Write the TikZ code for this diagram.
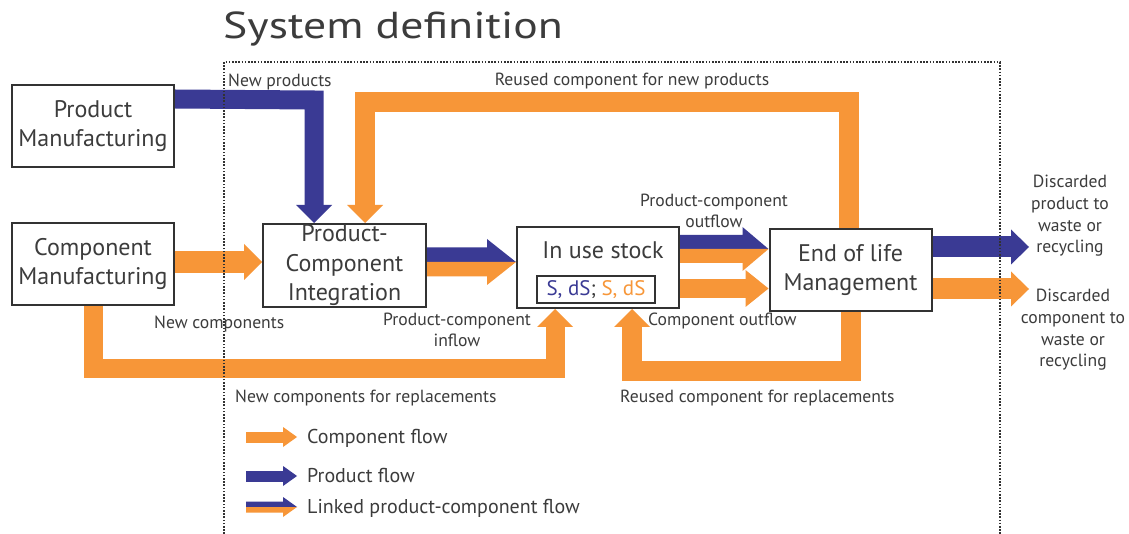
\documentclass[tikz,border=0pt]{standalone}
\usepackage{fontspec}
\setmainfont{PT Sans}
\usetikzlibrary{arrows.meta,calc}
\definecolor{corange}{RGB}{247,150,56}
\definecolor{cblue}{RGB}{58,58,148}
\definecolor{ctext}{RGB}{60,60,60}
\definecolor{cframe}{RGB}{50,50,50}
\pgfdeclarelayer{bg}
\pgfdeclarelayer{flows}
\pgfsetlayers{bg,flows,main}
% #1 start, #2 tip, #3 half shaft, #4 half head, #5 head length
\newcommand{\linkedarrow}[5]{%
  \fill[cblue] ($(#1)+(0,-#3)$) -- ($(#2)+(-#5,-#3)$) -- ($(#2)+(-#5,-#4)$) -- (#2) -- (#1) -- cycle;
  \fill[corange] ($(#1)+(0,#3)$) -- ($(#2)+(-#5,#3)$) -- ($(#2)+(-#5,#4)$) -- (#2) -- (#1) -- cycle;
}
\tikzset{
  box/.style={draw=cframe, line width=2pt, fill=white, minimum width=162pt, minimum height=82pt,
    inner sep=0pt, align=center, text=ctext, font=\fontsize{24}{29.5}\selectfont},
  lbl/.style={text=ctext, font=\fontsize{17.6}{21.7}\selectfont, inner sep=0pt},
  lgd/.style={text=ctext, font=\fontsize{20}{23}\selectfont, inner sep=0pt, anchor=base west},
  flow/.style={line join=miter, -{Triangle[width=36pt,length=18pt,line width=0pt]}},
  ocomp/.style={flow, draw=corange, line width=20pt},
  bprod/.style={flow, draw=cblue, line width=20pt},
}
\begin{document}
\begin{tikzpicture}[x=1pt,y=-1pt]
\useasboundingbox (0,0) rectangle (1129,534);
\begin{pgfonlayer}{bg}
\fill[white] (0,0) rectangle (1129,534);
\end{pgfonlayer}

% title
\node[anchor=base west, font=\fontsize{37.5}{44}\selectfont, text=ctext, inner sep=0pt] (title) at (223,39) {\scalebox{1.22}[1]{System definition}};

% boxes
\node[box] (pm) at (93,126) {Product\\Manufacturing};
\node[box] (cm) at (93,264) {Component\\Manufacturing};
\node[box, minimum width=163pt, minimum height=83pt] (pci) at (344.5,265.5) {Product-\\Component\\Integration};
\node[box, minimum height=81pt] (stock) at (598,267.5) {};
\node[anchor=base, inner sep=0pt, text=ctext, font=\fontsize{24}{28}\selectfont] (stocklbl) at (603,259) {In use stock};
\node[draw=cframe, line width=2pt, minimum width=118pt, minimum height=27pt, inner sep=0pt,
  font=\fontsize{21}{25}\selectfont] (sds) at (596,289.5) {\textcolor{cblue}{S, dS}\textcolor{ctext}{;} \textcolor{corange}{S, dS}};
\node[box] (eol) at (850.5,270) {End of life\\Management};

% flows
\begin{pgfonlayer}{flows}
\coordinate (np) at (314,100);
\draw[bprod, line width=19pt] ($(pm.north east)+(0,15)$) -- (np) -- (np |- pci.north);

\coordinate (ru1) at (849,102);
\coordinate (ru2) at (365,102);
\draw[ocomp] (ru1 |- eol.north) -- (ru1) -- (ru2) -- (ru2 |- pci.north);

\draw[ocomp, line width=22pt] ($(cm.east)+(0,-2)$) -- ($(cm.east -| pci.west)+(0,-2)$);

\coordinate (nc1) at (93,368);
\coordinate (nc2) at (555,368);
\draw[ocomp, line width=19pt] (cm.south) -- (nc1) -- (nc2) -- (nc2 |- stock.south);

\coordinate (rr1) at (851,371);
\coordinate (rr2) at (632,371);
\draw[ocomp] (rr1 |- eol.south) -- (rr1) -- (rr2) -- (rr2 |- stock.south);

\draw[ocomp, line width=19pt, -{Triangle[width=37pt,length=23pt,line width=0pt]}]
  ($(stock.east)+(0,21)$) -- ($(stock.east -| eol.west)+(0,21)$);

\coordinate (dp) at (1029,247);
\coordinate (dc) at (1029,289);
\draw[bprod, line width=21pt, -{Triangle[width=35pt,length=18pt,line width=0pt]}] (eol.east |- dp) -- (dp);
\draw[ocomp, line width=21pt, -{Triangle[width=35pt,length=18pt,line width=0pt]}] (eol.east |- dc) -- (dc);

\coordinate (l1s) at ($(pci.east)+(0,-3.5)$);
\coordinate (l1e) at (l1s -| stock.west);
\linkedarrow{l1s}{l1e}{14.5}{23}{29}
\coordinate (l2s) at ($(stock.east)+(0,-18.5)$);
\coordinate (l2e) at (l2s -| eol.west);
\linkedarrow{l2s}{l2e}{14}{22}{26}
\end{pgfonlayer}

% system boundary
\draw[cframe, line width=1.6pt, dash pattern=on 1.6pt off 1.6pt] (224,534) -- (224,62) -- (1000,62) -- (1000,534);

% labels
\node[lbl, anchor=base west] (lnp) at (228,87) {New products};
\node[lbl, anchor=base] (lru) at (632,86) {Reused component for new products};
\node[lbl, align=center] (lpco) at (714,211) {Product-component\\outflow};
\node[lbl, anchor=base west] (lnc) at (154,328) {New components};
\node[lbl, align=center] (lpci) at (457,330) {Product-component\\inflow};
\node[lbl, anchor=base west] (lco) at (648,326) {Component outflow};
\node[lbl, anchor=base west] (lncr) at (235,402) {New components for replacements};
\node[lbl, anchor=base west] (lrcr) at (620,402) {Reused component for replacements};
\node[lbl, align=center] (ldp) at (1070,216) {Discarded\\product to\\waste or\\recycling};
\node[lbl, align=center] (ldc) at (1073,330) {Discarded\\component to\\waste or\\recycling};

% legend
\coordinate (g1s) at (246,437); \coordinate (g1e) at (297,437);
\draw[draw=corange, line width=11pt, -{Triangle[width=20pt,length=14pt,line width=0pt]}] (g1s) -- (g1e);
\node[lgd] (t1) at (307,443) {Component flow};
\coordinate (g2s) at (246,476); \coordinate (g2e) at (297,476);
\draw[draw=cblue, line width=11pt, -{Triangle[width=20pt,length=14pt,line width=0pt]}] (g2s) -- (g2e);
\node[lgd] (t2) at (307,482) {Product flow};
\coordinate (g3s) at (246,507); \coordinate (g3e) at (297,507);
\linkedarrow{g3s}{g3e}{5.5}{10}{14}
\node[lgd] (t3) at (307,513) {Linked product-component flow};
\end{tikzpicture}
\end{document}
